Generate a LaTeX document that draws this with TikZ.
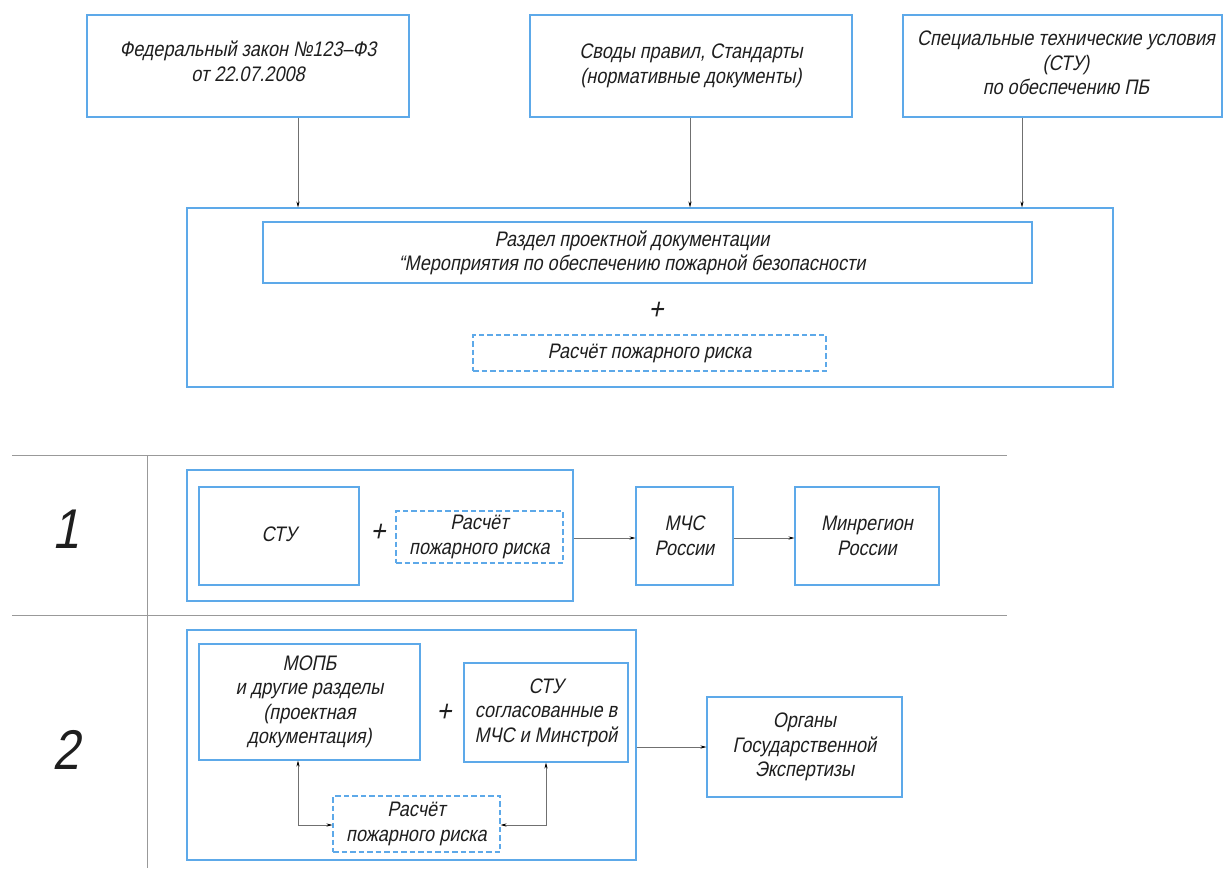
\documentclass[tikz,border=0pt]{standalone}
\usepackage{fontspec}
\setmainfont{Liberation Sans}[FakeStretch=0.86, FakeSlant=0.2]
\usetikzlibrary{arrows.meta}
\definecolor{boxblue}{HTML}{5DA9E9}
\definecolor{linegray}{HTML}{707070}
\definecolor{rulegray}{HTML}{999999}
\definecolor{inkgray}{HTML}{1E1E1E}
\begin{document}
\begin{tikzpicture}[x=1pt, y=-1pt,
  box/.style={draw=boxblue, line width=1.15pt, inner sep=0pt, align=center,
    text=inkgray, font=\fontsize{21}{24.5}\selectfont},
  dbox/.style={box, dash pattern=on 5.5pt off 3pt},
  txt/.style={inner sep=0pt, align=center, text=inkgray, font=\fontsize{21}{24.5}\selectfont},
  plus/.style={inner sep=0pt, text=inkgray, font=\fontsize{30}{30}\selectfont},
  num/.style={inner sep=0pt, text=inkgray, font=\fontsize{56}{56}\selectfont},
  arr/.style={draw=linegray, line width=0.7pt, -{Stealth[length=6pt, width=3.2pt, black]}},
  darr/.style={draw=linegray, line width=0.7pt, {Stealth[length=6pt, width=3.2pt, black]}-{Stealth[length=6pt, width=3.2pt, black]}},
  rule/.style={draw=rulegray, line width=0.9pt}]

\useasboundingbox (0,0) rectangle (1224,868);

% --- sources
\node[box, minimum width=322, minimum height=102] (law) at (248,66) {};
\node[txt] (lawtext) at (248,61.5) {Федеральный закон №123–Ф3\\от 22.07.2008};
\node[box, minimum width=322, minimum height=102] (codes) at (691,66)
  {Своды правил, Стандарты\\(нормативные документы)};
\node[box, minimum width=319, minimum height=102] (stutop) at (1062.5,66) {};
\node[txt] (stutoptext) at (1066,63) {Специальные технические условия\\(СТУ)\\по обеспечению ПБ};

% --- fire safety section
\node[box, minimum width=926, minimum height=179] (main) at (650,297.5) {};
\node[box, minimum width=769, minimum height=61] (razdel) at (647.5,252.5) {};
\node[txt] (razdeltext) at (632,253)
  {Раздел проектной документации\\“Мероприятия по обеспечению пожарной безопасности};
\node[plus] (plus0) at (656,311) {+};
\node[dbox, minimum width=353, minimum height=36] (risk0) at (649.5,353) {Расчёт пожарного риска};

\coordinate (c1) at (298,0);
\coordinate (c2) at (690,0);
\coordinate (c3) at (1022,0);
\draw[arr] (c1 |- law.south) -- (c1 |- main.north);
\draw[arr] (c2 |- codes.south) -- (c2 |- main.north);
\draw[arr] (c3 |- stutop.south) -- (c3 |- main.north);

% --- table rules
\coordinate (r1l) at (12,455);  \coordinate (r1r) at (1007,455);
\coordinate (r2l) at (12,615);  \coordinate (r2r) at (1007,615);
\coordinate (vt) at (147,455);  \coordinate (vb) at (147,868);
\draw[rule] (r1l) -- (r1r);
\draw[rule] (r2l) -- (r2r);
\draw[rule] (vt) -- (vb);

% --- variant 1
\node[num] (n1) at (66,529) {1};
\node[box, minimum width=386, minimum height=131] (g1) at (380,535.5) {};
\node[box, minimum width=160, minimum height=98] (stu1) at (279,536) {\raisebox{4pt}{СТУ}};
\node[plus] (plus1) at (378,533) {+};
\node[dbox, minimum width=167, minimum height=52] (risk1) at (479.5,537) {Расчёт\\пожарного риска};
\node[box, minimum width=97, minimum height=98] (mchs) at (684.5,536) {МЧС\\России};
\node[box, minimum width=144, minimum height=98] (minreg) at (867,536) {Минрегион\\России};
\coordinate (y1) at (0,538);
\draw[arr] (y1 -| g1.east) -- (y1 -| mchs.west);
\draw[arr] (y1 -| mchs.east) -- (y1 -| minreg.west);

% --- variant 2
\node[num] (n2) at (66,750) {2};
\node[box, minimum width=449, minimum height=230] (g2) at (411.5,745) {};
\node[box, minimum width=221, minimum height=116] (mopb) at (309.5,702)
  {МОПБ\\и другие разделы\\(проектная\\документация)};
\node[plus] (plus2) at (444,713) {+};
\node[box, minimum width=164, minimum height=99] (stu2) at (546,712.5)
  {СТУ\\согласованные в\\МЧС и Минстрой};
\node[box, minimum width=195, minimum height=100] (org) at (804.5,747)
  {Органы\\Государственной\\Экспертизы};
\node[dbox, minimum width=167, minimum height=56] (risk2) at (416.5,824) {Расчёт\\пожарного риска};
\coordinate (k1) at (298,825);
\coordinate (k2) at (546,825);
\draw[darr] (k1 |- mopb.south) -- (k1) -- (k1 -| risk2.west);
\draw[darr] (k2 |- stu2.south) -- (k2) -- (k2 -| risk2.east);
\coordinate (y2) at (0,747);
\draw[arr] (y2 -| g2.east) -- (y2 -| org.west);

\end{tikzpicture}
\end{document}
